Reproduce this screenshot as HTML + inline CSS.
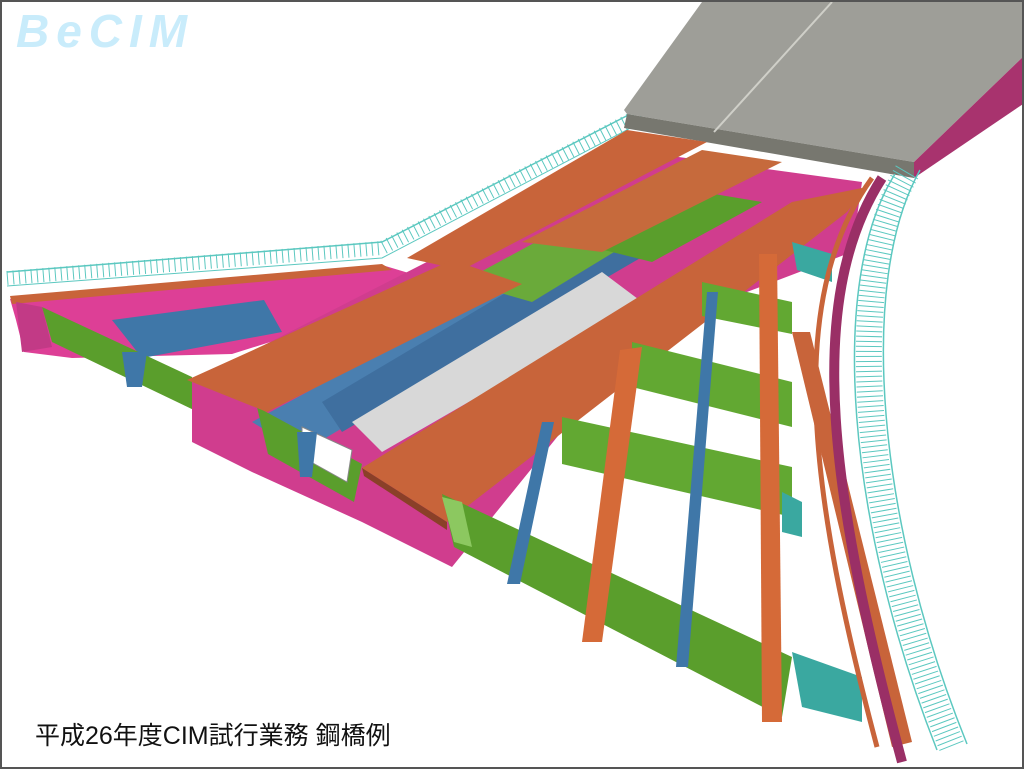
<!DOCTYPE html>
<html><head><meta charset="utf-8"><style>
html,body{margin:0;padding:0;background:#fff}
#w{position:relative;width:1024px;height:769px;overflow:hidden;background:#fff;box-sizing:border-box;border:2px solid #555}
svg{position:absolute;left:0;top:0}
.logo{position:absolute;left:14px;top:2px;font:italic bold 46px "Liberation Sans",sans-serif;color:#c9ecfb;letter-spacing:7px}
.cap{position:absolute;left:33px;top:714px;font:25px "Liberation Sans","Noto Sans CJK JP",sans-serif;color:#111}
</style></head><body><div id="w">
<svg width="1024" height="769" viewBox="0 0 1024 769">
<polyline points="5,276 380,246 640,112" fill="none" stroke="#5cc8c0" stroke-width="14" stroke-dasharray="1 5"/>
<polyline points="5,270 380,240 640,106" fill="none" stroke="#5cc8c0" stroke-width="1.5"/>
<polyline points="5,284 380,256 640,120" fill="none" stroke="#5cc8c0" stroke-width="1"/>
<polygon points="8,297 380,263 410,272 300,330 230,352 70,356 22,350 14,318" fill="#dd3f96"/>
<polygon points="8,294 380,262 390,268 10,302" fill="#c8643a"/>
<polygon points="110,318 262,298 280,330 140,356" fill="#3f77a8"/>
<polygon points="40,305 190,375 196,410 50,340" fill="#5a9e2c"/>
<polygon points="14,300 40,305 50,345 20,350" fill="#c23a86"/>
<polygon points="190,380 640,150 860,180 850,250 640,330 450,565 360,520 250,470 190,440" fill="#d03d8e"/>
<polygon points="250,420 600,230 620,260 300,450" fill="#4a7fb0"/>
<polygon points="320,400 640,210 700,220 340,430" fill="#3f6f9f"/>
<polygon points="350,420 600,270 640,300 380,450" fill="#d8d8d8"/>
<polygon points="460,280 700,150 760,160 530,300" fill="#6aaa3a"/>
<polygon points="590,245 700,190 760,200 650,260" fill="#5a9e2c"/>
<polygon points="255,405 360,462 352,500 266,452" fill="#5a9e2c"/>
<polygon points="300,425 350,448 345,480 300,455" fill="#fff" stroke="#888"/>
<polygon points="622,108 700,0 1024,0 1024,52 912,160 625,112" fill="#9e9e98"/>
<polygon points="625,112 912,160 912,176 622,126" fill="#77776f"/>
<polygon points="912,160 1024,52 1024,100 912,176" fill="#a8336e"/>
<line x1="712" y1="130" x2="830" y2="0" stroke="#cfcfc8" stroke-width="2"/>
<polygon points="405,256 625,128 705,140 460,268" fill="#c8643a"/>
<polygon points="185,378 450,258 520,282 265,410" fill="#c8643a"/>
<polygon points="520,240 700,148 780,160 600,250" fill="#c66a3c"/>
<polygon points="360,466 790,200 865,185 845,210 445,520" fill="#c8643a"/>
<polygon points="360,466 445,520 445,528 362,474" fill="#8a4028"/>
<polygon points="630,340 790,380 790,425 630,385" fill="#62a832"/>
<polygon points="560,415 790,465 790,515 560,462" fill="#62a832"/>
<polygon points="700,280 790,300 790,332 700,314" fill="#62a832"/>
<polygon points="440,492 790,655 780,715 452,545" fill="#5a9e2c"/>
<polygon points="440,495 460,500 470,545 452,540" fill="#8cc860"/>
<polygon points="618,348 640,345 600,640 580,640" fill="#d56a38"/>
<polygon points="757,252 775,252 780,720 760,720" fill="#d56a38"/>
<polygon points="790,330 808,330 910,740 890,745" fill="#c8643a"/>
<polygon points="705,290 716,290 686,665 674,665" fill="#3f77a8"/>
<polygon points="540,420 552,420 518,582 505,582" fill="#3f77a8"/>
<polygon points="120,350 145,350 140,385 125,385" fill="#3f77a8"/>
<polygon points="295,430 315,430 310,475 298,475" fill="#3f77a8"/>
<polygon points="790,650 860,675 860,720 800,705" fill="#3aa8a0"/>
<polygon points="790,240 830,252 830,280 795,268" fill="#3aa8a0"/>
<polygon points="780,490 800,500 800,535 780,530" fill="#3aa8a0"/>
<path d="M880,176 C800,300 830,500 900,760" fill="none" stroke="#9a2f66" stroke-width="10"/>
<path d="M870,176 C780,300 810,500 875,745" fill="none" stroke="#c8643a" stroke-width="5"/>
<path d="M905,170 C840,280 860,520 950,745" fill="none" stroke="#5cc8c0" stroke-width="26" stroke-dasharray="1 4"/>
<path d="M893,172 C825,280 845,520 935,748" fill="none" stroke="#5cc8c0" stroke-width="1.5"/>
<path d="M918,168 C855,280 875,520 965,742" fill="none" stroke="#5cc8c0" stroke-width="1.5"/>
</svg>
<div class="logo">BeCIM</div>
<div class="cap">平成26年度CIM試行業務 鋼橋例</div>
</div></body></html>
